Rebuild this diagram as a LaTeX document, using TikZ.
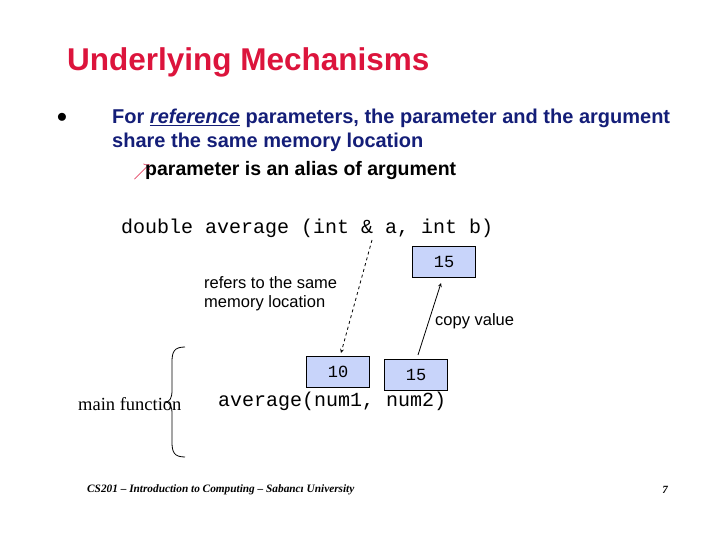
\documentclass[tikz,border=0pt]{standalone}
\usepackage{fontspec}
\setmainfont{Liberation Serif}
\setsansfont{Liberation Sans}
\setmonofont{Liberation Mono}
\usetikzlibrary{positioning}
\definecolor{titlered}{RGB}{220,20,60}
\definecolor{bulletblue}{RGB}{20,30,120}
\definecolor{cellblue}{RGB}{200,212,250}
\tikzset{cell/.style={draw,fill=cellblue,minimum width=63pt,minimum height=31pt,font=\ttfamily\fontsize{17}{19}\selectfont},
  code/.style={font=\ttfamily\fontsize{20}{22}\selectfont,inner sep=0pt,anchor=west},
  note/.style={font=\sffamily\fontsize{16.5}{19.5}\selectfont,align=left,inner sep=0pt}}
\begin{document}
\begin{tikzpicture}[x=1pt,y=-1pt,>=stealth]
   \useasboundingbox (0,0) rectangle (720,540);
   \node[anchor=west,inner sep=0pt,text=titlered,font=\sffamily\bfseries\fontsize{31.5}{36}\selectfont] (title) at (67,62) {Underlying Mechanisms};
   \node[inner sep=0pt,font=\sffamily\fontsize{20}{20}\selectfont] (dot) at (62,118) {$\bullet$};
   \node[anchor=west,inner sep=0pt,text=bulletblue,font=\sffamily\bfseries\fontsize{20}{24}\selectfont] (point) at (112,118)
      {For \underline{\emph{reference}} parameters, the parameter and the argument};
   \node[anchor=west,inner sep=0pt,text=bulletblue,font=\sffamily\bfseries\fontsize{20}{24}\selectfont] (point2) at (112,142)
      {share the same memory location};
   \node[inner sep=0pt,text=titlered,font=\sffamily\fontsize{16}{16}\selectfont] (subdot) at (142,172) {$\nearrow$};
   \node[anchor=west,inner sep=0pt,font=\sffamily\bfseries\fontsize{19.5}{22}\selectfont] (sub) at (145,171) {parameter is an alias of argument};
   \node[code] (decl) at (121,228) {double average (int \& a, int b)};
   \node[cell] (bval) at (444,262) {15};
   \node[note,anchor=north west] (refers) at (204,276) {refers to the same\\memory location};
   \node[note,anchor=west] (copy) at (435,321) {copy value};
   \node[cell] (num1) at (338,372) {10};
   \node[cell] (num2) at (416,375) {15};
   \node[code] (call) at (218,401) {average(num1, num2)};
   \node[anchor=west,inner sep=0pt,font=\rmfamily\fontsize{18.5}{20}\selectfont] (main) at (78,404) {main function};
   \coordinate (atop) at (372,240);
   \coordinate (ntop) at (341,353);
   \coordinate (nsrc) at (418,355);
   \coordinate (btip) at (441,283);
   \draw[->,dashed,thick] (atop) -- (ntop);
   \draw[->,thick] (nsrc) -- (btip);
   % brace
   \draw[thick] (185,347) .. controls (174,347) and (172,352) .. (172,362) -- (172,390)
      .. controls (172,398) and (170,402) .. (165,402)
      .. controls (170,402) and (172,406) .. (172,414) -- (172,442)
      .. controls (172,452) and (174,457) .. (185,457);
   \node[anchor=west,inner sep=0pt,font=\rmfamily\itshape\bfseries\fontsize{11.3}{13}\selectfont] (foot) at (87,490) {CS201 -- Introduction to Computing -- Sabancı University};
   \node[inner sep=0pt,font=\rmfamily\itshape\bfseries\fontsize{11}{13}\selectfont] (page) at (665,490) {7};
\end{tikzpicture}
\end{document}
